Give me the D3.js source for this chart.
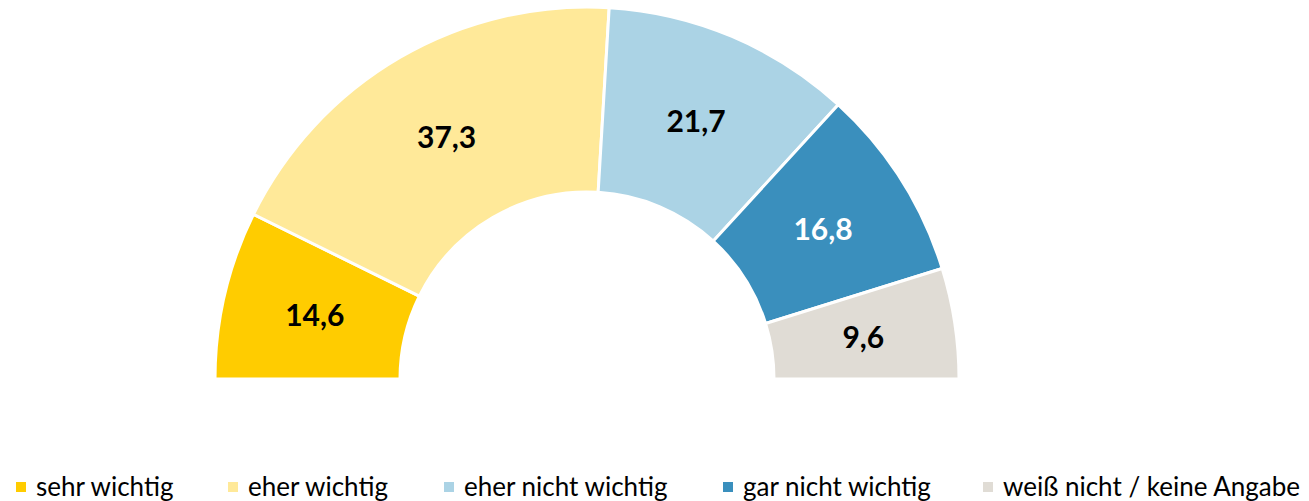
<!DOCTYPE html>
<html>
<head>
<meta charset="utf-8">
<script src="https://cdn.jsdelivr.net/npm/d3@7"></script>
<style>
  body { margin: 0; background: #fff; }
  svg text { font-family: Lato, "Open Sans", sans-serif; }
</style>
</head>
<body>
<script>
var categories = ["sehr wichtig", "eher wichtig", "eher nicht wichtig", "gar nicht wichtig", "weiß nicht / keine Angabe"];
var values = [14.6, 37.3, 21.7, 16.8, 9.6];
var colors = ["#FFCC00", "#FFE999", "#ABD3E5", "#3A8FBD", "#E0DCD5"];
var labelColors = ["#000", "#000", "#000", "#fff", "#000"];
var legendX = [16, 228, 444, 723, 983];

var width = 1309, height = 501;
var cx = 587, cy = 379, outerR = 372, innerR = 187;

var svg = d3.select("body").append("svg")
    .attr("width", width)
    .attr("height", height);

var g = svg.append("g").attr("transform", "translate(" + cx + "," + cy + ")");

var pie = d3.pie()
    .sort(null)
    .startAngle(-Math.PI / 2)
    .endAngle(Math.PI / 2)
    .value(function(d){ return d; });

var arc = d3.arc().innerRadius(innerR).outerRadius(outerR);

var arcs = pie(values);

g.selectAll("path.slice")
    .data(arcs)
    .enter().append("path")
    .attr("class", "slice")
    .attr("d", arc)
    .attr("fill", function(d, i){ return colors[i]; })
    .attr("stroke", "#fff")
    .attr("stroke-width", 3)
    .attr("stroke-linejoin", "miter");

var fmt = function(v){ return v.toFixed(1).replace(".", ","); };

g.selectAll("text.lbl")
    .data(arcs)
    .enter().append("text")
    .attr("class", "lbl")
    .attr("transform", function(d){ return "translate(" + arc.centroid(d) + ")"; })
    .attr("text-anchor", "middle")
    .attr("dy", "0.36em")
    .attr("font-size", 30)
    .attr("font-weight", "bold")
    .attr("fill", function(d, i){ return labelColors[i]; })
    .text(function(d){ return fmt(d.data); });

var legend = svg.append("g");
var items = legend.selectAll("g.item")
    .data(categories)
    .enter().append("g")
    .attr("class", "item")
    .attr("transform", function(d, i){ return "translate(" + legendX[i] + ",0)"; });

items.append("rect")
    .attr("x", 0).attr("y", 482)
    .attr("width", 10).attr("height", 10)
    .attr("fill", function(d, i){ return colors[i]; });

items.append("text")
    .attr("x", 20).attr("y", 496)
    .attr("font-size", 26)
    .attr("fill", "#000")
    .text(function(d){ return d; });
</script>
</body>
</html>
